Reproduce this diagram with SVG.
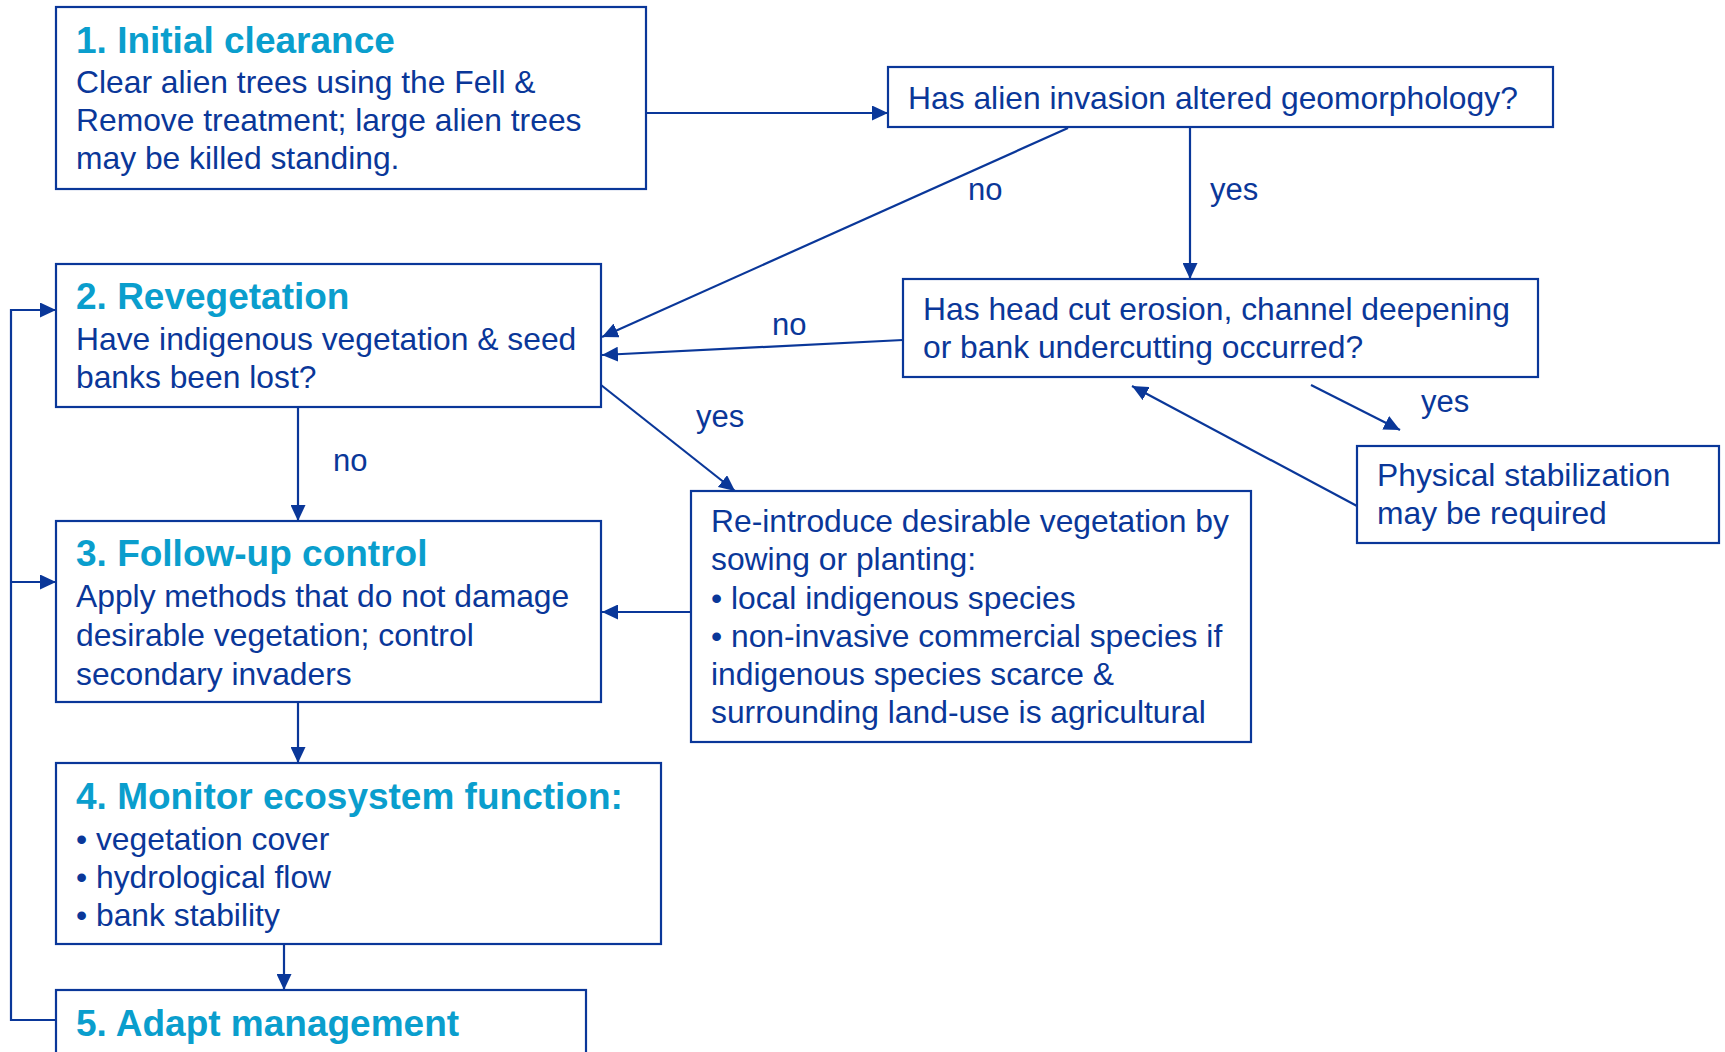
<svg xmlns="http://www.w3.org/2000/svg" width="1725" height="1052" viewBox="0 0 1725 1052">
<defs>
<style>
.box{fill:#fff;stroke:#0a3799;stroke-width:2.2}
.t{font-family:"Liberation Sans",Arial,sans-serif;font-size:31.8px;fill:#0a3799}
.h{font-family:"Liberation Sans",Arial,sans-serif;font-size:37px;font-weight:bold;fill:#0a9ecd}
.lbl{font-family:"Liberation Sans",Arial,sans-serif;font-size:31px;fill:#0a3799}
.c{fill:none;stroke:#0a3799;stroke-width:2.2}
</style>
<marker id="ah" markerUnits="userSpaceOnUse" markerWidth="16" markerHeight="15" refX="16" refY="7.5" orient="auto">
<path d="M0,0 L16,7.5 L0,15 z" fill="#0a3799"/>
</marker>
</defs>
<rect width="1725" height="1052" fill="#fff"/>

<g id="connectors">
<line class="c" x1="646" y1="113" x2="888" y2="113" marker-end="url(#ah)"/>
<line class="c" x1="1068" y1="128" x2="602" y2="337" marker-end="url(#ah)"/>
<line class="c" x1="1190" y1="128" x2="1190" y2="279" marker-end="url(#ah)"/>
<line class="c" x1="903" y1="340" x2="602" y2="355" marker-end="url(#ah)"/>
<line class="c" x1="1311" y1="385" x2="1400" y2="430" marker-end="url(#ah)"/>
<line class="c" x1="1357" y1="506" x2="1132" y2="386" marker-end="url(#ah)"/>
<line class="c" x1="601" y1="385" x2="735" y2="491" marker-end="url(#ah)"/>
<line class="c" x1="691" y1="612" x2="602" y2="612" marker-end="url(#ah)"/>
<line class="c" x1="298" y1="407" x2="298" y2="521" marker-end="url(#ah)"/>
<line class="c" x1="298" y1="702" x2="298" y2="763" marker-end="url(#ah)"/>
<line class="c" x1="284" y1="944" x2="284" y2="990" marker-end="url(#ah)"/>
<polyline class="c" points="56,1020 11,1020 11,310 56,310" marker-end="url(#ah)"/>
<line class="c" x1="11" y1="582" x2="56" y2="582" marker-end="url(#ah)"/>
<text class="lbl" x="968" y="200">no</text>
<text class="lbl" x="1210" y="200">yes</text>
<text class="lbl" x="772" y="335">no</text>
<text class="lbl" x="1421" y="412">yes</text>
<text class="lbl" x="696" y="427">yes</text>
<text class="lbl" x="333" y="471">no</text>
</g>

<g id="n1">
<rect class="box" x="56" y="7" width="590" height="182"/>
<text class="h" x="76" y="53">1. Initial clearance</text>
<text class="t" x="76" y="93">Clear alien trees using the Fell &amp;</text>
<text class="t" x="76" y="131">Remove treatment; large alien trees</text>
<text class="t" x="76" y="169">may be killed standing.</text>
</g>

<g id="q1">
<rect class="box" x="888" y="67" width="665" height="60"/>
<text class="t" x="908" y="109">Has alien invasion altered geomorphology?</text>
</g>

<g id="n2">
<rect class="box" x="56" y="264" width="545" height="143"/>
<text class="h" x="76" y="309">2. Revegetation</text>
<text class="t" x="76" y="350">Have indigenous vegetation &amp; seed</text>
<text class="t" x="76" y="388">banks been lost?</text>
</g>

<g id="q2">
<rect class="box" x="903" y="279" width="635" height="98"/>
<text class="t" x="923" y="320">Has head cut erosion, channel deepening</text>
<text class="t" x="923" y="358">or bank undercutting occurred?</text>
</g>

<g id="phys">
<rect class="box" x="1357" y="446" width="362" height="97"/>
<text class="t" x="1377" y="486">Physical stabilization</text>
<text class="t" x="1377" y="524">may be required</text>
</g>

<g id="reintro">
<rect class="box" x="691" y="491" width="560" height="251"/>
<text class="t" x="711" y="532">Re-introduce desirable vegetation by</text>
<text class="t" x="711" y="570">sowing or planting:</text>
<text class="t" x="711" y="609">• local indigenous species</text>
<text class="t" x="711" y="647">• non-invasive commercial species if</text>
<text class="t" x="711" y="685">indigenous species scarce &amp;</text>
<text class="t" x="711" y="723">surrounding land-use is agricultural</text>
</g>

<g id="n3">
<rect class="box" x="56" y="521" width="545" height="181"/>
<text class="h" x="76" y="566">3. Follow-up control</text>
<text class="t" x="76" y="607">Apply methods that do not damage</text>
<text class="t" x="76" y="646">desirable vegetation; control</text>
<text class="t" x="76" y="685">secondary invaders</text>
</g>

<g id="n4">
<rect class="box" x="56" y="763" width="605" height="181"/>
<text class="h" x="76" y="809">4. Monitor ecosystem function:</text>
<text class="t" x="76" y="850">• vegetation cover</text>
<text class="t" x="76" y="888">• hydrological flow</text>
<text class="t" x="76" y="926">• bank stability</text>
</g>

<g id="n5">
<rect class="box" x="56" y="990" width="530" height="90"/>
<text class="h" x="76" y="1036">5. Adapt management</text>
</g>
</svg>
